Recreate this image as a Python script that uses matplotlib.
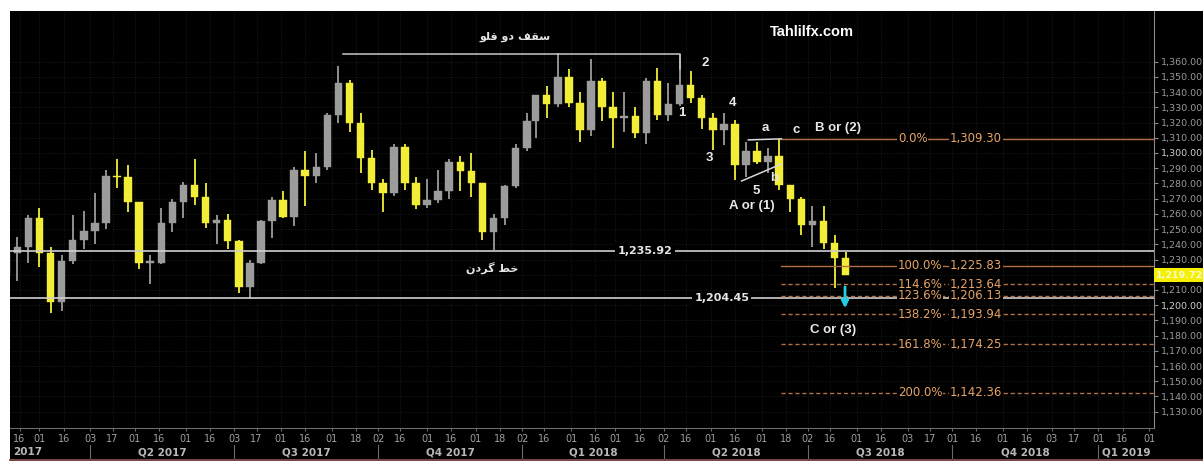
import numpy as np
import matplotlib
matplotlib.use("Agg")
import matplotlib.pyplot as plt
import matplotlib.ticker as ticker
import matplotlib.transforms as mtransforms
from matplotlib.patches import Rectangle

plt.rcParams["font.family"] = ["DejaVu Sans"]

# weekly spot gold candles (week starting Monday)
weeks = np.arange("2017-02-06", "2018-07-30", 7, dtype="datetime64[D]")
opens = [1220, 1234, 1238, 1257, 1234, 1202, 1229, 1243, 1249, 1254, 1285, 1284, 1268,
         1228, 1228, 1254, 1268, 1279, 1271, 1254, 1256, 1242, 1212, 1228, 1255, 1269,
         1258, 1289, 1285, 1291, 1325, 1346, 1320, 1297, 1280, 1274, 1304, 1280, 1266,
         1269, 1275, 1294, 1288, 1280, 1248, 1257, 1278, 1303, 1321, 1338, 1332, 1350,
         1333, 1315, 1347, 1330, 1323, 1324, 1313, 1347, 1325, 1332, 1345, 1336, 1323,
         1315, 1319, 1292, 1301, 1294, 1298, 1279, 1270, 1253, 1255, 1241, 1231]
highs = [1245, 1245, 1259, 1264, 1238, 1233, 1259, 1262, 1274, 1289, 1296, 1292, 1268,
         1233, 1264, 1270, 1281, 1296, 1280, 1259, 1260, 1243, 1230, 1256, 1271, 1275,
         1291, 1301, 1300, 1326, 1357, 1348, 1326, 1302, 1283, 1306, 1306, 1284, 1283,
         1289, 1296, 1298, 1300, 1280, 1260, 1279, 1306, 1326, 1338, 1344, 1366, 1355,
         1340, 1362, 1349, 1340, 1340, 1330, 1349, 1356, 1346, 1365, 1354, 1338, 1326,
         1326, 1322, 1307, 1307, 1303, 1309, 1279, 1271, 1265, 1265, 1246, 1235]
lows = [1216, 1216, 1228, 1225, 1195, 1196, 1227, 1237, 1240, 1250, 1277, 1261, 1224,
        1214, 1227, 1248, 1257, 1266, 1251, 1240, 1237, 1208, 1204, 1227, 1244, 1257,
        1252, 1265, 1280, 1289, 1320, 1314, 1287, 1276, 1261, 1272, 1276, 1263, 1264,
        1267, 1270, 1275, 1271, 1243, 1236, 1253, 1277, 1301, 1310, 1323, 1330, 1330,
        1307, 1311, 1321, 1303, 1314, 1310, 1306, 1322, 1321, 1331, 1333, 1316, 1302,
        1305, 1282, 1284, 1293, 1287, 1276, 1261, 1246, 1238, 1237, 1211, 1220]
closes = [1234, 1238, 1257, 1234, 1202, 1229, 1243, 1249, 1254, 1285, 1284, 1268, 1228,
          1228, 1254, 1268, 1279, 1271, 1254, 1256, 1242, 1212, 1228, 1255, 1269, 1258,
          1289, 1285, 1291, 1325, 1346, 1320, 1297, 1280, 1274, 1304, 1280, 1266, 1269,
          1275, 1294, 1288, 1280, 1248, 1257, 1278, 1303, 1321, 1338, 1332, 1350, 1333,
          1315, 1347, 1330, 1323, 1324, 1313, 1347, 1325, 1332, 1345, 1336, 1323, 1315,
          1319, 1292, 1301, 1294, 1298, 1279, 1270, 1253, 1255, 1241, 1231, 1220]
last_price = 1219.72

# horizontal levels
roof_level, roof_from, roof_to = 1365.0, "2017-09-08", "2018-04-11"
neckline = 1235.92
support = 1204.45
fib_start = "2018-06-14"
fib_pct = ["0.0%", "100.0%", "114.6%", "123.6%", "138.2%", "161.8%", "200.0%"]
fib_val = [1309.30, 1225.83, 1213.64, 1206.13, 1193.94, 1174.25, 1142.36]

hol = ["2018-01-01"]
origin = "2017-03-10"


def bd(d):
    return np.busday_count(origin, np.datetime64(d, "D"), holidays=hol)


x = np.busday_count(origin, weeks, holidays=hol) + 2
o, h, l, c = map(np.array, (opens, highs, lows, closes))
up = c >= o
col = np.where(up, "#9c9c9c", "#f2ee38")

fig = plt.figure(figsize=(12.03, 4.62), dpi=100, facecolor="white")
fig.patches.append(Rectangle((10 / 1203, 3 / 462), 1, 448 / 462, transform=fig.transFigure,
                             facecolor="black", edgecolor="none", zorder=-5))
fig.lines.append(plt.Line2D([10 / 1203, 1], [2 / 462, 2 / 462], transform=fig.transFigure,
                            color="#5a2424", lw=1.2))
ax = fig.add_axes([10 / 1203, 34 / 462, 1144 / 1203, 417 / 462])
ax.set_facecolor("black")
ax.set_xlim(-20.3, 496.2)
ax.set_ylim(1119.3, 1393.3)

# grid
ax.yaxis.set_major_locator(ticker.MultipleLocator(10))
ax.grid(True, color="#1f1f1f", ls=":", lw=0.6)

# candles
ax.vlines(x, l, h, colors=col, lw=1.3, zorder=3)
ax.bar(x, np.maximum(np.abs(c - o), 0.8), bottom=np.minimum(o, c), width=3.4,
       color=col, edgecolor=col, lw=0.3, zorder=4)

# double top line
ax.plot([bd(roof_from), bd(roof_to), bd(roof_to)], [roof_level, roof_level, 1355],
        color="#c8c8c8", lw=1.1, zorder=5)
ax.text(207.7, 1376.5, "\uFEEE\uFEE0\uFED7 \uFEED\uFEA9 \uFED2\uFED8\uFEB3", color="#e6e6e6",
        fontsize=8, ha="center", va="center", fontweight="bold")

# neckline / support
for lvl, lx in [(neckline, 266.4), (support, 301.1)]:
    ax.axhline(lvl, color="#cfcfcf", lw=1.2, zorder=5)
    ax.text(lx, lvl, f"{lvl:,.2f}", color="#e6e6e6", fontsize=8, fontweight="bold",
            ha="center", va="center", zorder=6,
            bbox=dict(facecolor="black", edgecolor="none", pad=1.5))
ax.text(197.3, 1224.4, "\uFEE5\uFEA9\uFEAE\uFB94 \uFEC2\uFEA7", color="#e6e6e6",
        fontsize=8, ha="center", va="center", fontweight="bold")

# fibonacci extension
x0, x1 = bd(fib_start), 496.2
for i, (p, v) in enumerate(zip(fib_pct, fib_val)):
    ls = "-" if i < 2 else (0, (3, 2))
    ax.plot([x0, x1], [v, v], color="#b0704a", lw=1.0, ls=ls, zorder=5)
    ax.text(380.6, v, p, color="#e6a468", fontsize=8.5, ha="left", va="center", zorder=6,
            bbox=dict(facecolor="black", edgecolor="none", pad=0.5))
    ax.text(404.1, v, f"{v:,.2f}", color="#e6a468", fontsize=8.5, ha="left", va="center",
            zorder=6, bbox=dict(facecolor="black", edgecolor="none", pad=0.5))

# abc triangle
ax.plot([bd("2018-05-24"), x0], [1308.6, 1309.3], color="#d8d8d8", lw=1.1, zorder=5)
ax.plot([bd("2018-05-21"), x0], [1281.6, 1292.8], color="#d8d8d8", lw=1.1, zorder=5)

# wave labels
wave = [("2", 293.5, 1359.1), ("1", 283.1, 1326.2), ("4", 306.1, 1332.9),
        ("3", 295.3, 1296.7), ("5", 316.5, 1275.0), ("A or (1)", 314.7, 1265.1),
        ("a", 320.5, 1316.5), ("b", 324.6, 1283.6), ("c", 334.5, 1315.1),
        ("B or (2)", 353.5, 1316.4), ("C or (3)", 351.2, 1183.6)]
for t, tx, ty in wave:
    ax.text(tx, ty, t, color="#e8e8e8", fontsize=9.5, fontweight="bold",
            family="Liberation Sans", ha="center", va="center", zorder=7)
ax.text(341.8, 1379.5, "Tahlilfx.com", color="white", fontsize=10.5, fontweight="bold",
        family="Liberation Sans", ha="center", va="center")

# cyan arrow
ax.annotate("", xy=(356.7, 1198.0), xytext=(356.7, 1212.0),
            arrowprops=dict(arrowstyle="-|>", color="#1fd0e4", lw=2.0, mutation_scale=10,
                            shrinkA=0, shrinkB=0),
            zorder=8)

# axes styling
for s in ["top", "left"]:
    ax.spines[s].set_visible(False)
ax.spines["right"].set_color("#8a8a8a")
ax.spines["bottom"].set_color("#6a6a6a")
ax.yaxis.tick_right()
ax.yaxis.set_major_formatter(ticker.FuncFormatter(lambda v, _: f"{v:,.2f}"))
ax.set_yticks(np.arange(1130, 1361, 10))
ax.tick_params(axis="y", colors="#8a8a8a", labelcolor="#9a9a9a", labelsize=6.8, length=3,
               pad=2)
for lab in ax.get_yticklabels():
    if lab.get_text() in ("1,300.00", "1,200.00"):
        lab.set_color("#d0d0d0")
    if lab.get_text() == "1,220.00":
        lab.set_visible(False)

# current price box
ytr = mtransforms.blended_transform_factory(ax.transAxes, ax.transData)
ax.text(1.002, last_price, f"{last_price:,.2f}", transform=ytr, color="#fafad0",
        fontsize=6.8, fontweight="bold", ha="left", va="center", clip_on=False, zorder=9,
        bbox=dict(facecolor="#f4f000", edgecolor="none", pad=1.6))

# date ticks: 1st and 16th of each month, rolled to next business day
months = np.arange("2017-02", "2019-03", dtype="datetime64[M]")
tick_dates = []
for m in months:
    for d in (0, 15):
        tick_dates.append(np.busday_offset(m.astype("datetime64[D]") + d, 0,
                                           roll="forward", holidays=hol))
tick_x = [bd(d) for d in tick_dates]
keep = [(tx, d) for tx, d in zip(tick_x, tick_dates) if -20 < tx < 496]
ax.set_xticks([k[0] for k in keep])
ax.set_xticklabels([str(d)[-2:] for _, d in keep])
ax.tick_params(axis="x", colors="#6a6a6a", labelcolor="#a0a0a0", labelsize=7, length=2,
               pad=2)

# quarter labels
xtr = mtransforms.blended_transform_factory(ax.transData, ax.transAxes)
quarters = np.arange("2017-01", "2019-07", 3, dtype="datetime64[M]")
qx = [bd(np.busday_offset(q.astype("datetime64[D]"), 0, roll="forward", holidays=hol))
      for q in quarters]
for i, q in enumerate(quarters[:-1]):
    a, b = max(qx[i], -20.3), min(qx[i + 1], 496.2)
    yr = str(q)[:4]
    qn = (int(str(q)[5:7]) - 1) // 3 + 1
    lab = yr if i == 0 else f"Q{qn} {yr}"
    if i == 0:
        ax.text(a + 1.5, -0.058, lab, transform=xtr, color="#b8b8b8", fontsize=7.5,
                fontweight="bold", ha="left", va="center", clip_on=False)
    else:
        ax.text((a + b) / 2, -0.058, lab, transform=xtr, color="#b8b8b8", fontsize=7.5,
                fontweight="bold", ha="center", va="center", clip_on=False)
        ax.plot([qx[i], qx[i]], [-0.04, -0.075], transform=xtr, color="#6a6a6a", lw=0.8,
                clip_on=False)

fig.savefig("out.png", dpi=100, facecolor="white")
